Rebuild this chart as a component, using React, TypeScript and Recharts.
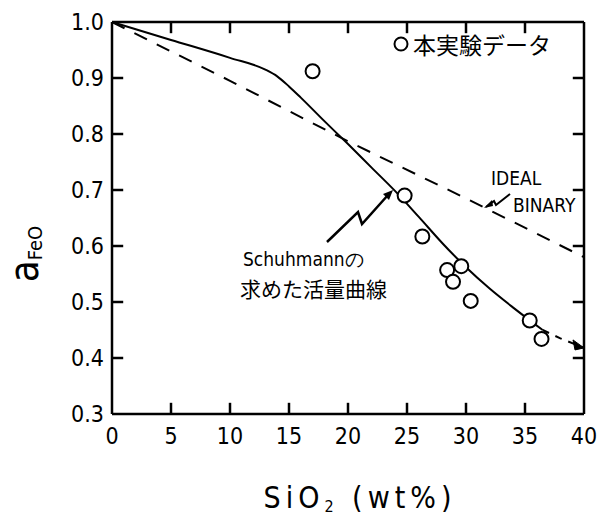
import React from "react";
import {
  ComposedChart,
  Line,
  Scatter,
  XAxis,
  YAxis,
  ReferenceLine,
} from "recharts";

// SiO2 wt% ticks and a_FeO ticks
const X_TICKS = [0, 5, 10, 15, 20, 25, 30, 35, 40];
const Y_TICKS = [0.3, 0.4, 0.5, 0.6, 0.7, 0.8, 0.9, 1.0];

// 本実験データ (open circles)
const EXP_X = [17, 24.8, 26.3, 28.4, 29.6, 28.9, 30.4, 35.4, 36.4];
const EXP_Y = [0.912, 0.69, 0.617, 0.557, 0.564, 0.536, 0.502, 0.467, 0.434];

// Schuhmann activity curve (solid) + extrapolated tail (dashed)
const SCH_X = [0, 5, 10, 13, 14, 15, 16, 18, 20, 22, 24, 26, 28, 30, 32, 34, 36.5];
const SCH_Y = [1.0, 0.968, 0.936, 0.915, 0.903, 0.885, 0.865, 0.823, 0.782, 0.74, 0.698, 0.652, 0.605, 0.562, 0.524, 0.49, 0.45];
const TAIL_X = [36.5, 38, 40];
const TAIL_Y = [0.45, 0.435, 0.418];

// ideal binary line
const IDEAL_X = [0, 10, 20, 30, 40];
const IDEAL_Y = [1.0, 0.895, 0.787, 0.685, 0.58];

const zip = (xs: number[], ys: number[]) => xs.map((x, i) => ({ x, y: ys[i] }));

const expData = zip(EXP_X, EXP_Y);
const schData = zip(SCH_X, SCH_Y);
const tailData = zip(TAIL_X, TAIL_Y);
const idealData = zip(IDEAL_X, IDEAL_Y);

// inner ticks on all four sides, drawn as short segments through the chart scales
const X0 = 0, X1 = 40, Y0 = 0.3, Y1 = 1.0;
const TX = 0.02; // tick length in a_FeO units (~11px)
const TY = 0.95; // tick length in wt% units (~11px)
const innerX = X_TICKS.filter((v) => v > X0 && v < X1);
const innerY = Y_TICKS.filter((v) => v > Y0 + 1e-6 && v < Y1 - 1e-6);

const FONT = "'DejaVu Sans Condensed', 'DejaVu Sans', sans-serif";
const JP = "'Noto Sans CJK JP', sans-serif";
const AXIS = { stroke: "#000", strokeWidth: 2.5 };

const bottomTick = (props: any) => {
  const { x, y, payload } = props;
  return (
    <text x={x} y={y + 30} textAnchor="middle" fontSize={23} fontFamily={FONT} fill="#000">
      {payload.value}
    </text>
  );
};

const leftTick = (props: any) => {
  const { x, y, payload } = props;
  return (
    <text x={x - 8} y={y} dy={8} textAnchor="end" fontSize={23} fontFamily={FONT} fill="#000">
      {Number(payload.value).toFixed(1)}
    </text>
  );
};

const OpenCircle = (props: any) => {
  const { cx, cy } = props;
  return <circle cx={cx} cy={cy} r={7} fill="#fff" stroke="#000" strokeWidth={2} />;
};

const ArrowEnd = (props: any) => {
  const { cx, cy, index } = props;
  if (index !== TAIL_X.length - 1) return <g key={`t-${index}`} />;
  return (
    <path
      key={`t-${index}`}
      d={`M${cx},${cy} L${cx - 11},${cy - 8} L${cx - 9},${cy + 2} Z`}
      fill="#000"
      stroke="#000"
    />
  );
};

const tickSegs = [
  ...innerX.map((v) => ({ k: `xb-${v}`, seg: [{ x: v, y: Y0 }, { x: v, y: Y0 + TX }] })),
  ...innerX.map((v) => ({ k: `xt-${v}`, seg: [{ x: v, y: Y1 }, { x: v, y: Y1 - TX }] })),
  ...innerY.map((v) => ({ k: `yl-${v}`, seg: [{ x: X0, y: v }, { x: X0 + TY, y: v }] })),
  ...innerY.map((v) => ({ k: `yr-${v}`, seg: [{ x: X1, y: v }, { x: X1 - TY, y: v }] })),
];

export default function App() {
  return (
    <div style={{ position: "absolute", left: 0, top: 0 }}>
      <ComposedChart
        width={604}
        height={516}
        margin={{ top: 12, right: 10, bottom: 72, left: 52 }}
      >
        <XAxis
          xAxisId="b"
          type="number"
          dataKey="x"
          domain={[X0, X1]}
          ticks={X_TICKS}
          height={30}
          tickSize={0}
          tickMargin={0}
          tickLine={false}
          tick={bottomTick}
          axisLine={AXIS}
        />
        <XAxis
          xAxisId="t"
          orientation="top"
          type="number"
          dataKey="x"
          domain={[X0, X1]}
          ticks={X_TICKS}
          height={10}
          tickLine={false}
          tick={false}
          axisLine={AXIS}
        />
        <YAxis
          yAxisId="l"
          type="number"
          domain={[Y0, Y1]}
          ticks={Y_TICKS}
          width={60}
          tickSize={0}
          tickMargin={0}
          tickLine={false}
          tick={leftTick}
          axisLine={AXIS}
          label={{
            position: "insideLeft",
            content: () => (
              <text
                transform="translate(38,254) rotate(-90)"
                textAnchor="middle"
                fontFamily={FONT}
                fill="#000"
              >
                <tspan fontSize={40}>a</tspan>
                <tspan fontSize={20} dy={4}>FeO</tspan>
              </text>
            ),
          }}
        />
        <YAxis
          yAxisId="r"
          orientation="right"
          type="number"
          domain={[Y0, Y1]}
          ticks={Y_TICKS}
          width={10}
          tickLine={false}
          tick={false}
          axisLine={AXIS}
        />

        {tickSegs.map((t) => (
          <ReferenceLine
            key={t.k}
            xAxisId="b"
            yAxisId="l"
            segment={t.seg}
            stroke="#000"
            strokeWidth={2.5}
            ifOverflow="visible"
          />
        ))}

        <Line
          xAxisId="b"
          yAxisId="l"
          data={idealData}
          dataKey="y"
          type="linear"
          stroke="#000"
          strokeWidth={2}
          strokeDasharray="14 11"
          dot={false}
          isAnimationActive={false}
        />
        <Line
          xAxisId="b"
          yAxisId="l"
          data={schData}
          dataKey="y"
          type="monotone"
          stroke="#000"
          strokeWidth={2}
          dot={false}
          isAnimationActive={false}
        />
        <Line
          xAxisId="b"
          yAxisId="l"
          data={tailData}
          dataKey="y"
          type="linear"
          stroke="#000"
          strokeWidth={2}
          strokeDasharray="7 7"
          dot={<ArrowEnd />}
          isAnimationActive={false}
        />
        <Scatter
          xAxisId="b"
          yAxisId="l"
          data={expData}
          dataKey="y"
          shape={<OpenCircle />}
          isAnimationActive={false}
        />
      </ComposedChart>

      <svg
        width={604}
        height={516}
        style={{ position: "absolute", left: 0, top: 0, pointerEvents: "none" }}
      >
        {/* legend */}
        <circle cx={401} cy={44} r={6.5} fill="#fff" stroke="#000" strokeWidth={2} />
        <text x={413} y={54} fontSize={23} fontFamily={JP} fill="#000">本実験データ</text>

        {/* IDEAL BINARY */}
        <text x={491} y={185} fontSize={19} fontFamily={FONT} fill="#000">IDEAL</text>
        <text x={513} y={212} fontSize={19} fontFamily={FONT} fill="#000">BINARY</text>
        <path d="M486,207 L494,201 L496,205 L510,194" fill="none" stroke="#000" strokeWidth={2} />
        <path d="M484,208 L492,200 L493,206 Z" fill="#000" />

        {/* Schuhmann label */}
        <text x={243} y={266} fontSize={19} fontFamily={FONT} fill="#000">Schuhmannの</text>
        <text x={240} y={297} fontSize={21} fontFamily={JP} fill="#000">求めた活量曲線</text>
        <path d="M327,242 L358,212 L362,224 L388,195" fill="none" stroke="#000" strokeWidth={2.5} />
        <path d="M393,190 L383,194 L389,200 Z" fill="#000" />

        {/* x label */}
        <text x={360} y={508} textAnchor="middle" fontSize={30} fontFamily={FONT} letterSpacing={5} fill="#000">
          SiO<tspan fontSize={16} dy={4}>2</tspan>
          <tspan dy={-4}> (wt%)</tspan>
        </text>
      </svg>
    </div>
  );
}
